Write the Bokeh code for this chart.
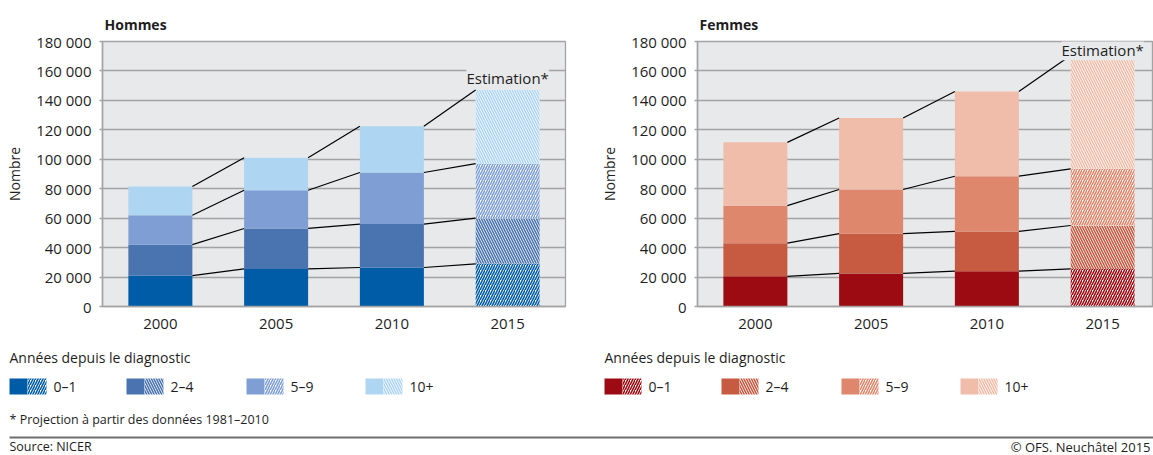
import numpy as np
from bokeh.plotting import figure
from bokeh.layouts import column, row
from bokeh.models import Range1d, FixedTicker, Label
from bokeh.embed import file_html
from bokeh.resources import INLINE
from bokeh.core.properties import value

# ---------------- data ----------------
years = ["2000", "2005", "2010", "2015"]
groups = ["0–1", "2–4", "5–9", "10+"]

hommes_0_1 = [21000, 25500, 26500, 29000]
hommes_2_4 = [21000, 27500, 29500, 31000]
hommes_5_9 = [20000, 26000, 35000, 37000]
hommes_10p = [19500, 22000, 31500, 50000]

femmes_0_1 = [20500, 22500, 24000, 25500]
femmes_2_4 = [22500, 27000, 27000, 29500]
femmes_5_9 = [25500, 30000, 37500, 38500]
femmes_10p = [43000, 48500, 57500, 77000]

y_ticks = [0, 20000, 40000, 60000, 80000, 100000, 120000, 140000, 160000, 180000]
y_tick_labels = ["0", "20 000", "40 000", "60 000", "80 000", "100 000",
                 "120 000", "140 000", "160 000", "180 000"]

hommes_colors = ["#005ca6", "#4a74b0", "#7f9fd4", "#aed5f2"]
femmes_colors = ["#9c0a12", "#c65b42", "#df876c", "#efbda9"]
hatches = ["/", "\\", "/", "\\"]

# ---------------- style ----------------
FONT = "Open Sans"
TXT = "#1e1e1e"
BG = "#e8e9eb"
GRID = "#a3a3a3"
BAR_W = 0.553
H_SCALE = 5
H_WEIGHT = 1.6


def make_panel(title, series, colors, width, mb_left, mb_right, x_end, est_y):
    p = figure(width=width, height=340, x_range=Range1d(-0.5, x_end),
               y_range=Range1d(0, 180000), output_backend="svg",
               toolbar_location=None, min_border_left=mb_left,
               min_border_right=mb_right, min_border_top=41,
               min_border_bottom=34)
    p.background_fill_color = BG
    p.border_fill_color = "white"
    p.outline_line_color = GRID
    p.outline_line_width = 1.3

    p.title.text = title
    p.title.align = "left"
    p.title.text_font = FONT
    p.title.text_font_size = "14px"
    p.title.text_font_style = "bold"
    p.title.text_color = TXT
    p.title.offset = 2
    p.title.standoff = 16

    p.xgrid.visible = False
    p.ygrid.ticker = FixedTicker(ticks=y_ticks)
    p.ygrid.grid_line_color = GRID
    p.ygrid.grid_line_width = 1.4

    p.yaxis.ticker = FixedTicker(ticks=y_ticks)
    p.yaxis.major_label_overrides = {t: l for t, l in zip(y_ticks, y_tick_labels)}
    p.yaxis.axis_label = "Nombre"
    p.yaxis.axis_label_text_font = FONT
    p.yaxis.axis_label_text_font_size = "14px"
    p.yaxis.axis_label_text_font_style = "normal"
    p.yaxis.axis_label_text_color = TXT
    p.yaxis.axis_label_standoff = 9
    p.yaxis.major_tick_out = 3
    p.yaxis.major_tick_in = 0
    p.yaxis.minor_tick_out = 0
    p.yaxis.minor_tick_in = 0
    p.yaxis.major_label_standoff = 8

    p.xaxis.ticker = FixedTicker(ticks=list(range(len(years))))
    p.xaxis.major_label_overrides = {i: y for i, y in enumerate(years)}
    p.xaxis.major_tick_out = 0
    p.xaxis.major_tick_in = 0
    p.xaxis.minor_tick_out = 0
    p.xaxis.minor_tick_in = 0
    p.xaxis.major_label_standoff = 12

    for ax in (p.xaxis, p.yaxis):
        ax.axis_line_color = GRID
        ax.axis_line_width = 1.5
        ax.major_tick_line_color = GRID
        ax.major_tick_line_width = 1.3
        ax.major_label_text_font = FONT
        ax.major_label_text_font_size = "15px"
        ax.major_label_text_color = TXT

    xs = np.arange(len(years))
    vals = np.array(series, dtype=float)
    tops = np.cumsum(vals, axis=0)
    bottoms = tops - vals

    for k in range(len(groups)):
        # observed years: solid
        p.vbar(x=xs[:3], width=BAR_W, bottom=bottoms[k][:3], top=tops[k][:3],
               fill_color=colors[k], line_color=None)
        # estimate: hatched
        p.vbar(x=xs[3:], width=BAR_W, bottom=bottoms[k][3:], top=tops[k][3:],
               fill_color="white", line_color=None, hatch_pattern=hatches[k],
               hatch_color=colors[k], hatch_scale=H_SCALE, hatch_weight=H_WEIGHT)

    # connecting lines
    for k in range(len(groups)):
        p.segment(x0=xs[:-1] + BAR_W / 2, y0=tops[k][:-1],
                  x1=xs[1:] - BAR_W / 2, y1=tops[k][1:],
                  line_color="black", line_width=1.2)

    lab = Label(x=3, y=est_y, text="Estimation*", text_align="center",
                text_baseline="middle", text_font=FONT, text_font_size="15px",
                text_color=TXT, background_fill_color=BG)
    p.add_layout(lab)
    return p


p1 = make_panel("Hommes", [hommes_0_1, hommes_2_4, hommes_5_9, hommes_10p],
                hommes_colors, 597, 102, 32, 3.5, 155500)
p2 = make_panel("Femmes", [femmes_0_1, femmes_2_4, femmes_5_9, femmes_10p],
                femmes_colors, 556, 100, 0, -0.5 + 456 / 115.75, 174000)

# ---------------- footer: legends + notes ----------------
f = figure(width=1153, height=115, x_range=Range1d(0, 1153),
           y_range=Range1d(455, 340), output_backend="svg",
           toolbar_location=None, min_border=0,
           x_axis_type=None, y_axis_type=None)
f.xgrid.visible = False
f.ygrid.visible = False
f.outline_line_color = None
f.background_fill_color = "white"
f.border_fill_color = "white"

offsets = np.array([0, 117, 237, 356])
for start, colors in ((9, hommes_colors), (604, femmes_colors)):
    sx = start + offsets
    f.text(x=[start], y=[357], text=["Années depuis le diagnostic"],
           text_font=value(FONT), text_font_size="14px", text_color=TXT,
           text_baseline="middle", text_align="left")
    f.quad(left=sx, right=sx + 18, top=378, bottom=394, fill_color=colors,
           line_color=None)
    for k in range(len(groups)):
        f.quad(left=[sx[k] + 18], right=[sx[k] + 37], top=[378], bottom=[394],
               fill_color="white", line_color=None, hatch_pattern=hatches[k],
               hatch_color=colors[k], hatch_scale=H_SCALE, hatch_weight=H_WEIGHT)
    f.text(x=sx + 44, y=[386] * 4, text=groups, text_font=value(FONT),
           text_font_size="14px", text_color=TXT, text_baseline="middle",
           text_align="left")

f.text(x=[9], y=[419], text=["* Projection à partir des données 1981–2010"],
       text_font=value(FONT), text_font_size="12.5px", text_color=TXT,
       text_baseline="middle", text_align="left")
f.segment(x0=[9], y0=[437], x1=[1153], y1=[437], line_color="#6e6e6e",
          line_width=2)
f.text(x=[9], y=[446], text=["Source: NICER"], text_font=value(FONT),
       text_font_size="12.5px", text_color=TXT, text_baseline="middle",
       text_align="left")
f.text(x=[1150], y=[446], text=["© OFS. Neuchâtel 2015"],
       text_font=value(FONT), text_font_size="13px", text_color=TXT,
       text_baseline="middle", text_align="right")

layout = column(row(p1, p2), f)
open("out.html", "w").write(file_html(layout, INLINE))
